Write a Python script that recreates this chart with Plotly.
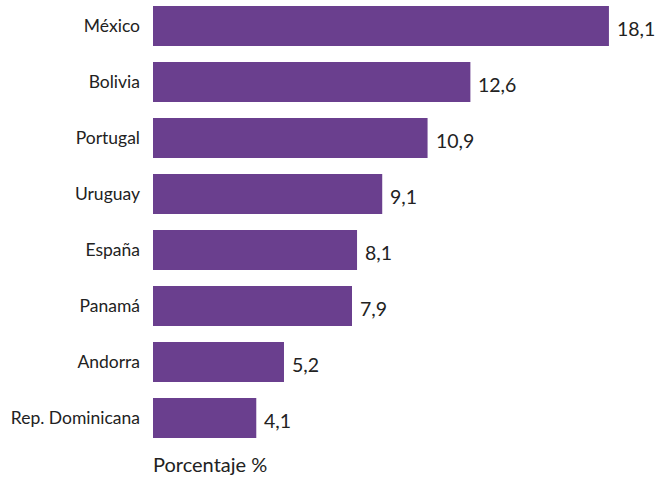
import plotly.graph_objects as go

# Share of population by country (%)
countries = ["México", "Bolivia", "Portugal", "Uruguay", "España", "Panamá", "Andorra", "Rep. Dominicana"]
values = [18.1, 12.6, 10.9, 9.1, 8.1, 7.9, 5.2, 4.1]

bar_color = "#6a3f8e"
text_color = "#222222"
font_family = "Lato, 'Open Sans', sans-serif"


def fmt(v):
    return f"{v:.1f}".replace(".", ",")


fig = go.Figure(
    go.Bar(
        x=values,
        y=countries,
        orientation="h",
        marker=dict(color=bar_color, line=dict(width=0)),
        hoverinfo="skip",
    )
)

# value labels to the right of each bar
for c, v in zip(countries, values):
    fig.add_annotation(
        x=v, y=c, xref="x", yref="y",
        text=fmt(v), showarrow=False,
        xanchor="left", yanchor="middle", xshift=6, yshift=-2,
        font=dict(family=font_family, size=19.5, color=text_color),
    )

fig.add_annotation(
    x=0, y=0, xref="paper", yref="paper",
    text="Porcentaje %", showarrow=False,
    xanchor="left", yanchor="top", yshift=-4, xshift=-2,
    font=dict(family=font_family, size=20, color=text_color),
)

fig.update_layout(
    width=672, height=477,
    margin=dict(l=153, r=19, t=0, b=31),
    paper_bgcolor="white", plot_bgcolor="white",
    bargap=0.286,
    showlegend=False,
    font=dict(family=font_family, color=text_color),
)
fig.update_xaxes(
    range=[0, 500 / 25.19],
    showgrid=False, zeroline=False, showticklabels=False, showline=False,
)
fig.update_yaxes(
    type="category",
    categoryorder="array", categoryarray=countries,
    range=[7.5, -0.4643],
    showgrid=False, zeroline=False, showline=False,
    ticks="", ticklabelstandoff=12,
    tickfont=dict(family=font_family, size=17.5, color=text_color),
)

fig.write_html("out.html")
